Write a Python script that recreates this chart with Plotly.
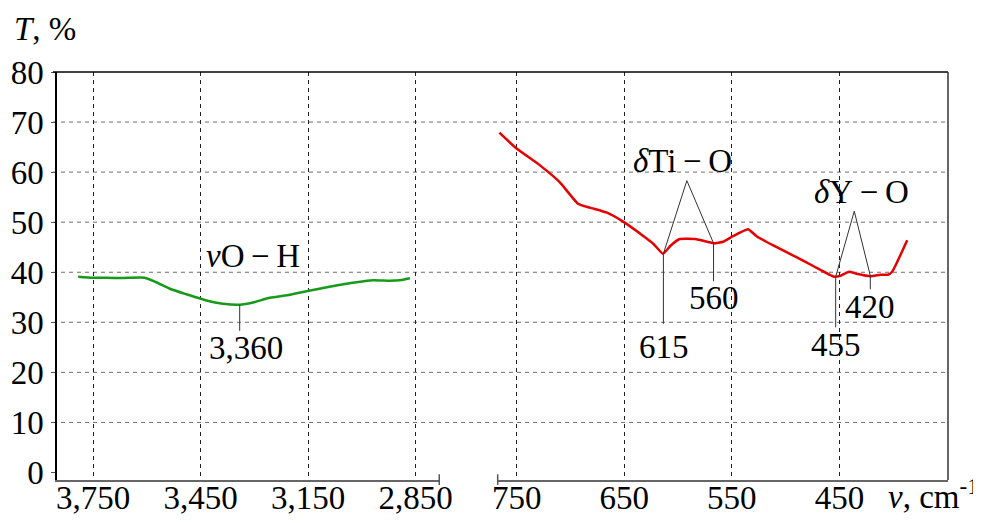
import plotly.graph_objects as go

# ---------------- data ----------------
# O-H stretching region (left panel), wavenumber cm^-1 vs transmittance %
oh_x = [3792, 3751, 3713, 3667, 3606, 3574, 3536, 3490, 3434, 3388, 3341,
        3304, 3257, 3201, 3155, 3090, 3015, 2969, 2922, 2894, 2866]
oh_t = [39.1, 38.9, 38.9, 38.85, 38.9, 38.0, 36.7, 35.6, 34.35, 33.7, 33.5,
        33.95, 34.9, 35.5, 36.2, 37.1, 38.0, 38.4, 38.3, 38.4, 38.8]

# metal-oxygen region (right panel)
mo_x = [766, 750, 728, 710, 693, 682, 666, 651, 632, 623, 614, 607, 599, 583,
        567, 558, 549, 535, 527, 511, 490, 474, 455, 449, 441, 434, 421, 412,
        405, 401, 396, 387]
mo_t = [67.9, 64.7, 61.3, 58.0, 53.7, 52.9, 51.9, 50.1, 47.2, 45.7, 43.7, 45.3,
        46.6, 46.6, 45.8, 46.1, 47.2, 48.6, 47.2, 45.3, 43.0, 41.2, 39.1, 39.3,
        40.1, 39.7, 39.2, 39.5, 39.5, 40.1, 42.2, 46.4]

y_ticks = [0, 10, 20, 30, 40, 50, 60, 70, 80]
left_ticks = [3750, 3450, 3150, 2850]
left_tick_text = ["3,750", "3,450", "3,150", "2,850"]
right_ticks = [750, 650, 550, 450]
right_tick_text = ["750", "650", "550", "450"]

# band labels
oh_peak_x = 3341
oh_peak_t = 33.5
oh_stem_end = 28.3
oh_label = "3,360"
oh_label_pos = (3324, 24.9)
oh_group = "<i>v</i>O\u2009\u2212\u2009H"
oh_group_pos = (3305, 43.2)

ti_peaks_x = [613.6, 567.0]
ti_peaks_t = [43.7, 45.8]
ti_stem_end = [29.7, 38.2]
ti_labels = ["615", "560"]
ti_label_pos = [(613.4, 25.0), (566.9, 34.9)]
ti_apex = (591.8, 58.3)
ti_group = "<i>\u03b4</i>Ti\u2009\u2212\u2009O"
ti_group_pos = (595.7, 62.2)

y_peaks_x = [453.5, 421.3]
y_peaks_t = [39.1, 39.3]
y_stem_end = [29.0, 36.6]
y_labels = ["455", "420"]
y_label_pos = [(453.0, 25.5), (421.3, 33.0)]
y_apex = (436.2, 52.2)
y_group = "<i>\u03b4</i>Y\u2009\u2212\u2009O"
y_group_pos = (429.1, 56.1)

# ---------------- figure ----------------
FONT = "Liberation Serif"
FS = 33
LINE = "#333333"

fig = go.Figure()
fig.add_trace(go.Scatter(x=oh_x, y=oh_t, xaxis="x", yaxis="y", mode="lines",
                         line=dict(color="#17991a", width=2.5, shape="spline", smoothing=0.5),
                         hoverinfo="skip", showlegend=False))
fig.add_trace(go.Scatter(x=mo_x, y=mo_t, xaxis="x2", yaxis="y", mode="lines",
                         line=dict(color="#e60000", width=2.5, shape="spline", smoothing=0.4),
                         hoverinfo="skip", showlegend=False))

def leader(xs, ys, ax):
    fig.add_trace(go.Scatter(x=xs, y=ys, xaxis=ax, yaxis="y", mode="lines",
                             line=dict(color=LINE, width=1), hoverinfo="skip",
                             showlegend=False))

# O-H stem
leader([oh_peak_x, oh_peak_x], [oh_peak_t, oh_stem_end], "x")
# Ti-O bracket and stems
leader([ti_peaks_x[0], ti_apex[0], ti_peaks_x[1]], [ti_peaks_t[0], ti_apex[1], ti_peaks_t[1]], "x2")
for px, pt, pe in zip(ti_peaks_x, ti_peaks_t, ti_stem_end):
    leader([px, px], [pt, pe], "x2")
# Y-O bracket and stems
leader([y_peaks_x[0], y_apex[0], y_peaks_x[1]], [y_peaks_t[0], y_apex[1], y_peaks_t[1]], "x2")
for px, pt, pe in zip(y_peaks_x, y_peaks_t, y_stem_end):
    leader([px, px], [pt, pe], "x2")

annotations = []
def label(text, pos, xref):
    annotations.append(dict(text=text, x=pos[0], y=pos[1], xref=xref, yref="y",
                            showarrow=False, xanchor="center", yanchor="middle",
                            font=dict(family=FONT, size=FS, color="black")))

label(oh_label, oh_label_pos, "x")
label(oh_group, oh_group_pos, "x")
for t, p in zip(ti_labels, ti_label_pos):
    label(t, p, "x2")
label(ti_group, ti_group_pos, "x2")
for t, p in zip(y_labels, y_label_pos):
    label(t, p, "x2")
label(y_group, y_group_pos, "x2")

# axis titles
annotations.append(dict(text="<i>T</i>, %", xref="paper", yref="paper", x=-0.051, y=1.105,
                        xanchor="left", yanchor="middle", showarrow=False,
                        font=dict(family=FONT, size=FS, color="black")))
annotations.append(dict(text="<i>v</i>, cm<sup>-1</sup>", xref="paper", yref="paper",
                        x=0.9307, y=0, xanchor="left", yanchor="top", yshift=9,
                        showarrow=False, font=dict(family=FONT, size=FS, color="black")))

shapes = []
# horizontal dashed grid spanning both panels and the gap
for v in y_ticks[1:-1]:
    shapes.append(dict(type="line", xref="paper", yref="y", x0=-0.0045, x1=1, y0=v, y1=v,
                       line=dict(color="#6e6e6e", width=1, dash="4px,4px"), layer="below"))
# top and right frame
shapes.append(dict(type="line", xref="paper", yref="paper", x0=-0.0045, x1=1, y0=1, y1=1,
                   line=dict(color="black", width=1.5)))
shapes.append(dict(type="line", xref="paper", yref="paper", x0=1, x1=1, y0=0, y1=1,
                   line=dict(color="#333333", width=1.5)))
# axis break caps
for xp in [0.429, 0.4946]:
    shapes.append(dict(type="line", xref="paper", yref="paper", x0=xp, x1=xp,
                       y0=-0.012, y1=0.014, line=dict(color="#555555", width=1.5)))

tickfont = dict(family=FONT, size=FS, color="black")
xcommon = dict(showgrid=True, gridcolor="#222222", gridwidth=1, griddash="4px,4px",
               showline=True, linecolor="#666666", linewidth=1.5, zeroline=False,
               ticks="", tickfont=tickfont, anchor="y", ticklabelstandoff=-12,
               automargin=False)

# the page body has an 8px default margin, so the margins below are reduced by 8px
fig.update_layout(
    width=981, height=523,
    margin=dict(l=49, r=41, t=64, b=51, autoexpand=False),
    paper_bgcolor="white", plot_bgcolor="white",
    font=dict(family=FONT, size=FS, color="black"),
    xaxis=dict(domain=[0, 0.429], range=[3851, 2784], tickvals=left_ticks,
               ticktext=left_tick_text, **xcommon),
    xaxis2=dict(domain=[0.4946, 1], range=[767.6, 349.1], tickvals=right_ticks,
                ticktext=right_tick_text, **xcommon),
    yaxis=dict(range=[-1.5, 80], tickvals=y_ticks, showgrid=False, zeroline=False,
               showline=True, linecolor="black", linewidth=1.5, ticks="outside",
               ticklen=4, tickcolor="#555555", tickfont=tickfont, ticklabelstandoff=1,
               automargin=False),
    shapes=shapes, annotations=annotations,
)

fig.write_html("out.html")
